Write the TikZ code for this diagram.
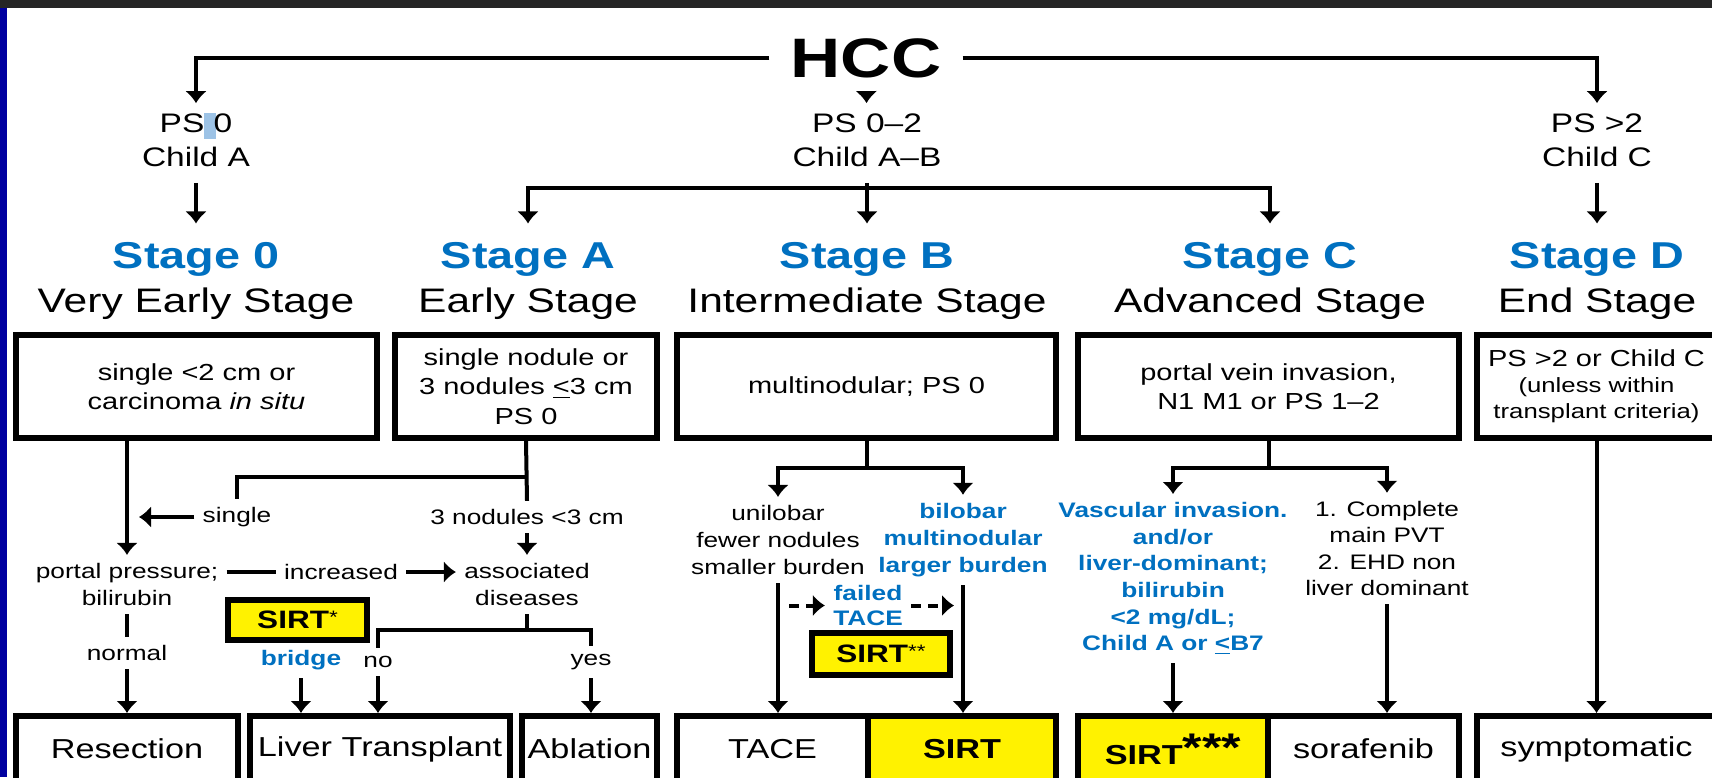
\documentclass[tikz,border=0pt]{standalone}
\usepackage{fontspec}
\setmainfont[FakeStretch=1.25]{Liberation Sans}
\usetikzlibrary{arrows.meta}
\definecolor{stageblue}{RGB}{0,112,192}
\definecolor{topbar}{RGB}{38,38,38}
\definecolor{sidebar}{RGB}{0,0,160}
\definecolor{selblue}{RGB}{157,195,230}
\newcommand\fsz[2]{\fontsize{#1}{#2}\selectfont}
\begin{document}
\begin{tikzpicture}[x=0.5pt,y=-0.5pt,
  ar/.style={line width=2pt,-{Latex[width=11pt,length=6pt]}},
  ln/.style={line width=2pt},
  dar/.style={ar,dash pattern=on 5pt off 3.5pt},
  bx/.style={draw,line width=3pt,inner sep=0pt,align=center},
  ttl/.style={anchor=base,text=stageblue,font=\fsz{18.7}{20}\bfseries,inner ysep=9pt},
  sub/.style={anchor=base,font=\fsz{17}{19}},
  ps/.style={align=center,font=\fsz{13.4}{17},inner sep=5pt},
  lb/.style={align=center,font=\fsz{10.5}{13.5},inner sep=4pt},
  blb/.style={lb,text=stageblue,font=\fsz{10.5}{13.5}\bfseries},
  boxtxt/.style={bx,font=\fsz{11.6}{14.5},minimum height=51.5pt},
  outc/.style={bx,font=\fsz{13.7}{15},minimum height=33pt},
  sirt/.style={bx,fill=yellow,font=\fsz{12.6}{14}\bfseries}]
\useasboundingbox(0,0)rectangle(1712,777);
\clip(0,0)rectangle(1712,777);
\fill[sidebar](0,0)rectangle(7,777);
\fill[topbar](0,0)rectangle(1712,8);
\node[font=\fsz{27.8}{30}\bfseries,inner xsep=10.5pt,inner ysep=8pt](hcc)at(866,58){HCC};
\fill[selblue](204,113)rectangle(216,139);
\node[ps](ps0)at(196,140){PS 0\\Child A};
\node[ps](ps02)at(867,140){PS 0--2\\Child A--B};
\node[ps](ps2)at(1597,140){PS >2\\Child C};
\draw[ar](hcc.west)-|(ps0.north);
\draw[ar](hcc.east)-|(ps2.north);
\draw[ar](hcc)--(ps02);
\foreach \x/\s/\t in {196/0/Very Early Stage,528/A/Early Stage,867/B/Intermediate Stage,1270/C/Advanced Stage,1597/D/End Stage}{
  \node[ttl](st\s)at(\x,268){Stage \s};
  \node[sub](sb\s)at(\x,312){\t};
}
\coordinate(jB)at(867,188);
\draw[ar,shorten <=3pt](ps0)--(st0);
\draw[ar,shorten <=3pt](ps2)--(stD);
\draw[ar,shorten <=3pt](ps02)--(stB);
\draw[ar](jB)-|(stA.north);
\draw[ar](jB)-|(stC.north);
\node[boxtxt,minimum width=180.5pt](b0)at(196.5,386.5){single <2 cm or\\carcinoma \textit{in situ}};
\node[boxtxt,minimum width=131pt,font=\fsz{11.6}{14.75}](bA)at(526,386.5){single nodule or\\3 nodules \underline{<}3 cm\\PS 0};
\node[boxtxt,minimum width=189.5pt](bB)at(866.5,386.5){multinodular; PS 0};
\node[boxtxt,minimum width=190.5pt](bC)at(1268.5,386.5){portal vein invasion,\\N1 M1 or PS 1--2};
\node[boxtxt,minimum width=119.5pt,font=\fsz{11.6}{13}](bD)at(1596.5,386.5){PS >2 or Child C\\{\fsz{10.3}{13}(unless within}\\{\fsz{10.3}{13}transplant criteria)}};
\node[outc,minimum width=111pt](res)at(127,749){Resection};
\node[outc,minimum width=130pt](lt)at(380,749){Liver Transplant};
\node[outc,minimum width=67.5pt](abl)at(589.5,749){Ablation};
\node[outc,minimum width=95.5pt](tace)at(772.5,749){TACE};
\node[outc,fill=yellow,minimum width=94pt](sirtB)at(962,749){\bfseries SIRT};
\node[outc,fill=yellow,minimum width=95pt](sirtC)at(1173,749){\bfseries SIRT\raisebox{1.5pt}{\fsz{20}{20}***}};
\node[outc,minimum width=95.5pt](sor)at(1363.5,749){sorafenib};
\node[outc,minimum width=119.5pt](symp)at(1596.5,749){symptomatic};
\node[lb](pp)at(127,584.5){portal pressure;\\bilirubin};
\node[lb](sng)at(237,517){single};
\node[lb](nod3)at(527,517){3 nodules <3 cm};
\node[lb](ad)at(527,584.5){associated\\diseases};
\node[lb](inc)at(341,572){increased};
\node[lb](nrm)at(127,653){normal};
\node[sirt,minimum width=69.5pt,minimum height=20pt](sirtA)at(297.5,620){SIRT\raisebox{2.6pt}{\fsz{9}{9}\mdseries *}};
\node[blb](brg)at(301,660){bridge};
\node[lb](no)at(378,662){no};
\node[lb](yes)at(591,662){yes};
\coordinate(jA)at(527,477);
\coordinate(jD)at(527,630);
\draw[ln](bA.south)--(nod3.north);
\draw[ln](jA)-|(sng.north);
\draw[ar,shorten >=6pt](sng.west)--(pp.north|-sng);
\draw[ar](pp|-b0.south)--(pp.north);
\draw[ar](nod3)--(ad);
\draw[ln](pp.east|-inc)--(inc);
\draw[ar](inc)--(ad.west|-inc);
\draw[ln](pp)--(nrm);
\draw[ar](nrm)--(res);
\draw[ln](ad.south)--(jD);
\draw[ln](no.north)|-(jD)-|(yes.north);
\draw[ar](no)--(no|-lt.north);
\draw[ar](yes)--(yes|-abl.north);
\draw[ar](brg)--(brg|-lt.north);
\coordinate(jB2)at(866.5,468);
\node[lb](uni)at(778,540){unilobar\\fewer nodules\\smaller burden};
\node[blb](bil)at(963,540){bilobar\\multinodular\\larger burden};
\node[blb,font=\fsz{10.5}{12.5}\bfseries](fail)at(868,605.5){failed\\TACE};
\node[sirt,minimum width=69pt,minimum height=21pt](sirtB2)at(881,654){SIRT\raisebox{2.6pt}{\fsz{9}{9}\mdseries **}};
\draw[ln](bB.south)--(jB2);
\draw[ar](jB2)-|(uni.north);
\draw[ar](jB2)-|(bil.north);
\draw[ar](uni)--(uni|-tace.north);
\draw[ar](bil)--(bil|-sirtB.north);
\draw[dar,shorten <=5.5pt](uni.south|-fail)--(fail.west);
\draw[dar,shorten >=4.5pt](fail.east)--(bil.south|-fail);
\coordinate(jC)at(1268.5,468);
\node[blb,font=\fsz{10.5}{13.3}\bfseries](vasc)at(1173,578.5){Vascular invasion.\\and/or\\liver-dominant;\\bilirubin\\<2 mg/dL;\\Child A or \underline{<}B7};
\node[lb,font=\fsz{10.5}{13.2}](pvt)at(1387,548.5){1. Complete\\main PVT\\2. EHD non\\liver dominant};
\draw[ln](bC.south)--(jC);
\draw[ar](jC)-|(vasc.north);
\draw[ar](jC)-|(pvt.north);
\draw[ar](vasc)--(vasc|-sirtC.north);
\draw[ar](pvt)--(pvt|-sor.north);
\draw[ar](bD)--(symp);
\end{tikzpicture}
\end{document}
